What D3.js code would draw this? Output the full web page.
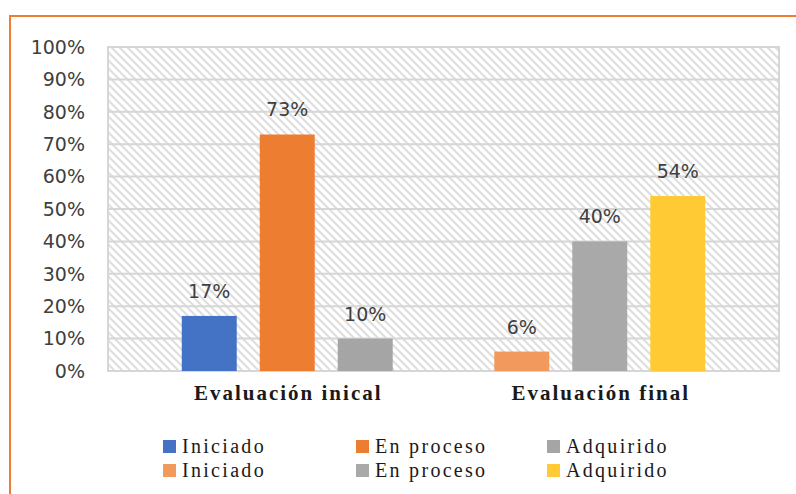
<!DOCTYPE html>
<html>
<head>
<meta charset="utf-8">
<script src="https://cdn.jsdelivr.net/npm/d3@7.9.0/dist/d3.min.js"></script>
<style>
  html, body { margin: 0; padding: 0; background: #fff; }
  svg { display: block; }
  .tick-label { font-family: "DejaVu Sans", sans-serif; font-size: 19px; fill: #404040; }
  .bar-label { font-family: "DejaVu Sans", sans-serif; font-size: 19px; fill: #404040; }
  .cat-label { font-size: 21px; font-weight: bold; letter-spacing: 2px; fill: #1a1a1a; }
  .legend-text { font-size: 20px; letter-spacing: 2.3px; fill: #1a1a1a; }
</style>
</head>
<body>
<svg id="chart" width="796" height="494"></svg>
<script>
// ========== Data ==========
const categories = ['Evaluación inical', 'Evaluación final'];
const levels = ['Iniciado', 'En proceso', 'Adquirido'];
const initialValues = [17, 73, 10];
const finalValues = [6, 40, 54];
const yTicks = [0, 10, 20, 30, 40, 50, 60, 70, 80, 90, 100];

const initialColors = ['#4472C4', '#ED7D31', '#A5A5A5'];
const finalColors = ['#F29A5D', '#A9A9A9', '#FFCA33'];

const serif = "'Liberation Serif', 'DejaVu Serif', serif";

// ========== Layout ==========
const plot = { left: 108, top: 47, right: 779, bottom: 371 };

const svg = d3.select('#chart');

// pattern for hatched plot background
const defs = svg.append('defs');
const pat = defs.append('pattern')
  .attr('id', 'hatch')
  .attr('patternUnits', 'userSpaceOnUse')
  .attr('width', 8)
  .attr('height', 8);
pat.append('rect').attr('width', 8).attr('height', 8).attr('fill', '#fff');
pat.append('path')
  .attr('d', 'M-2,-2 L10,10 M-2,6 L2,10 M6,-2 L10,2')
  .attr('stroke', '#dedede')
  .attr('stroke-width', 2);

// outer orange frame (cropped)
svg.append('rect')
  .attr('x', 10).attr('y', 16)
  .attr('width', 820).attr('height', 520)
  .attr('fill', 'none')
  .attr('stroke', '#ED7D31')
  .attr('stroke-width', 2);

// ========== Scales ==========
const y = d3.scaleLinear().domain([0, 100]).range([plot.bottom, plot.top]);

const x0 = d3.scaleBand()
  .domain(categories)
  .range([plot.left, plot.right])
  .paddingInner(0.325)
  .paddingOuter(0.236);

const x1 = d3.scaleBand()
  .domain(levels)
  .range([0, x0.bandwidth()])
  .paddingInner(0.295)
  .paddingOuter(0);

// ========== Plot area ==========
svg.append('rect')
  .attr('x', plot.left).attr('y', plot.top)
  .attr('width', plot.right - plot.left)
  .attr('height', plot.bottom - plot.top)
  .attr('fill', 'url(#hatch)');

// gridlines
svg.append('g')
  .selectAll('line')
  .data(yTicks)
  .join('line')
  .attr('x1', plot.left).attr('x2', plot.right)
  .attr('y1', d => y(d)).attr('y2', d => y(d))
  .attr('stroke', '#d6d6d6')
  .attr('stroke-width', 2);

svg.append('rect')
  .attr('x', plot.left).attr('y', plot.top)
  .attr('width', plot.right - plot.left)
  .attr('height', plot.bottom - plot.top)
  .attr('fill', 'none')
  .attr('stroke', '#d6d6d6')
  .attr('stroke-width', 2);

// y tick labels
svg.append('g')
  .selectAll('text')
  .data(yTicks)
  .join('text')
  .attr('class', 'tick-label')
  .attr('x', 85)
  .attr('y', d => y(d))
  .attr('dy', '0.36em')
  .attr('text-anchor', 'end')
  .text(d => d + '%');

// ========== Bars ==========
const groups = [
  { cat: categories[0], values: initialValues, colors: initialColors },
  { cat: categories[1], values: finalValues, colors: finalColors },
];

groups.forEach(g => {
  const gEl = svg.append('g').attr('transform', `translate(${x0(g.cat)},0)`);
  const rows = levels.map((lv, i) => ({ lv, v: g.values[i], c: g.colors[i] }));

  gEl.selectAll('rect')
    .data(rows)
    .join('rect')
    .attr('x', d => x1(d.lv))
    .attr('y', d => y(d.v))
    .attr('width', x1.bandwidth())
    .attr('height', d => y(0) - y(d.v))
    .attr('fill', d => d.c);

  gEl.selectAll('text')
    .data(rows)
    .join('text')
    .attr('class', 'bar-label')
    .attr('x', d => x1(d.lv) + x1.bandwidth() / 2)
    .attr('y', d => y(d.v) - 18)
    .attr('text-anchor', 'middle')
    .text(d => d.v + '%');
});

// category labels
svg.append('g')
  .selectAll('text')
  .data(categories)
  .join('text')
  .attr('class', 'cat-label')
  .style('font-family', serif)
  .attr('x', d => x0(d) + x0.bandwidth() / 2 + 1)
  .attr('y', 400)
  .attr('text-anchor', 'middle')
  .text(d => d);

// ========== Legend ==========
const legendItems = [
  ...levels.map((lv, i) => ({ label: lv, color: initialColors[i] })),
  ...levels.map((lv, i) => ({ label: lv, color: finalColors[i] })),
];
const colX = [163, 356, 547];
const rowY = [453, 477];

const legend = svg.append('g')
  .selectAll('g')
  .data(legendItems)
  .join('g')
  .attr('transform', (d, i) => `translate(${colX[i % 3]},${rowY[Math.floor(i / 3)]})`);

legend.append('rect')
  .attr('x', 0).attr('y', -13)
  .attr('width', 13).attr('height', 13)
  .attr('fill', d => d.color);

legend.append('text')
  .attr('class', 'legend-text')
  .style('font-family', serif)
  .attr('x', 19)
  .attr('y', 0)
  .text(d => d.label);
</script>
</body>
</html>
